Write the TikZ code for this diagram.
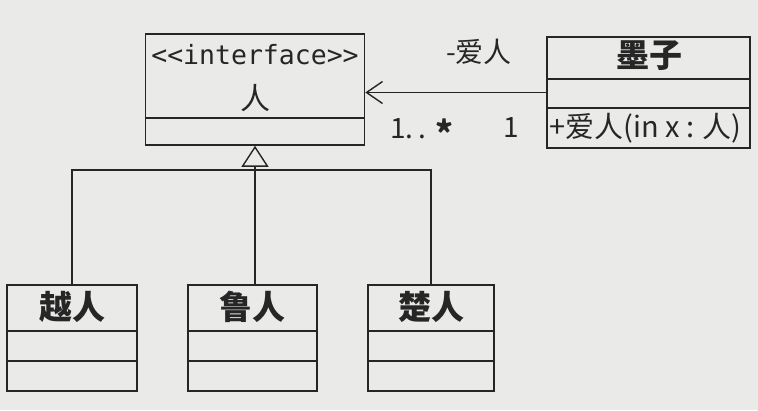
\documentclass[tikz,border=0pt]{standalone}
\usepackage{fontspec}
\setmainfont{Noto Sans CJK SC}
\newfontfamily\monof{DejaVu Sans Mono}
\usetikzlibrary{arrows.meta}
\definecolor{paper}{RGB}{234,234,232}
\definecolor{ink}{RGB}{38,38,38}
\begin{document}
\begin{tikzpicture}[x=1pt,y=-1pt,
  box/.style={draw=ink,line width=1.6pt,rectangle,inner sep=0pt},
  lbl/.style={text=ink,inner sep=0pt,font=\fontsize{28}{30}\selectfont},
  cname/.style={text=ink,inner sep=0pt,font=\bfseries\fontsize{33}{34}\selectfont},
  conn/.style={draw=ink,line width=1.5pt}]
\fill[paper] (0,0) rectangle (758,410);
\useasboundingbox (0,0) rectangle (758,410);
% interface
\node[box,minimum width=219pt,minimum height=111pt] (iface) at (255,89.5) {};
\draw[box] ([yshift=28pt]iface.south west) -- ([yshift=28pt]iface.south east);
\node[text=ink,inner sep=0pt,font=\monof\fontsize{26.5}{28}\selectfont] (ifst) at (255,55) {<<interface>>};
\node[text=ink,inner sep=0pt,font=\fontsize{30}{31}\selectfont] (ifname) at (255,98) {人};
% Mozi
\node[box,minimum width=203pt,minimum height=111pt] (mozi) at (648.5,92.5) {};
\draw[box] ([yshift=-43pt]mozi.north west) -- ([yshift=-43pt]mozi.north east);
\draw[box] ([yshift=-72pt]mozi.north west) -- ([yshift=-72pt]mozi.north east);
\node[cname] (moziname) at (649,56) {墨子};
\node[lbl,anchor=west,font=\fontsize{29}{30}\selectfont] (mozop) at (549,128) {+爱人(in x : 人)};
% children
\foreach \n/\x/\w/\t in {yue/72/130/越人, lu/252.5/129/鲁人, chu/431/126/楚人}{
  \node[box,minimum width=\w pt,minimum height=106pt] (\n) at (\x,338) {};
  \draw[box] ([yshift=-47pt]\n.north west) -- ([yshift=-47pt]\n.north east);
  \draw[box] ([yshift=-77pt]\n.north west) -- ([yshift=-77pt]\n.north east);
  \node[cname] (\n name) at (\x,307) {\t};
}
% association
\draw[conn,-{Straight Barb[length=16pt,width=22pt,line width=1.4pt]}] (mozi.west) -- (mozi.west -| iface.east);
\node[lbl] (role) at (479,52) {-爱人};
\node[lbl,anchor=base west] (mult1) at (390,138) {1.\,.\,\,{\bfseries\fontsize{34}{34}\selectfont\raisebox{-8pt}{*}}};
\node[lbl] (mult2) at (511,128) {1};
% generalization
\coordinate (bus) at (255,170);
\draw[conn] (yue.north) |- (bus) -| (chu.north);
\draw[conn,-{Triangle[open,width=27pt,length=21pt,line width=1.4pt]}] (lu.north -| iface.south) -- (iface.south);
\end{tikzpicture}
\end{document}
